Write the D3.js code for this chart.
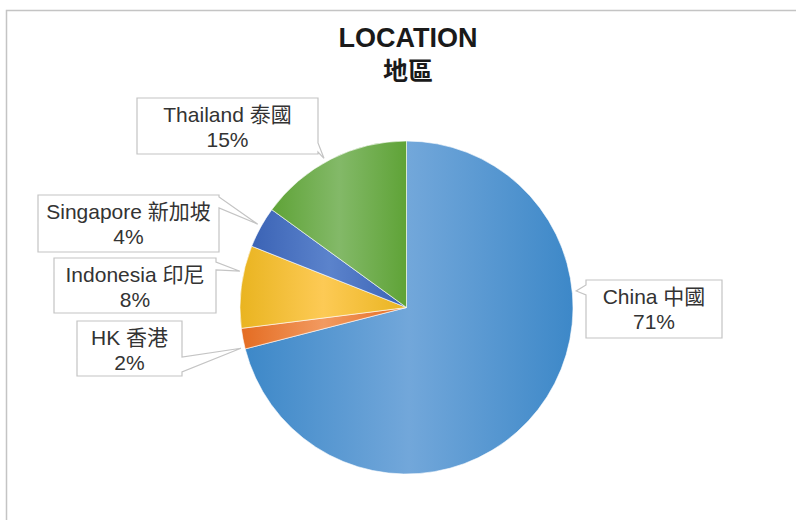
<!DOCTYPE html>
<html>
<head>
<meta charset="utf-8">
<script src="https://cdn.jsdelivr.net/npm/d3@7"></script>
<style>
  body { margin: 0; background: #fff; }
  svg text { font-family: "Liberation Sans", Arial, "Noto Sans CJK TC", sans-serif; }
</style>
</head>
<body>
<div id="chart"></div>
<script>
// Chart data
const categories = ["China", "HK", "Indonesia", "Singapore", "Thailand"];
const categoriesZh = ["中國", "香港", "印尼", "新加坡", "泰國"];
const shares = [71, 2, 8, 4, 15];

// Gradient colours per slice: [edge, middle]
const colors = [
    ["#3d88c8", "#72a7da"],
    ["#e46c22", "#f29a60"],
    ["#e9b420", "#fdca55"],
    ["#3b63b5", "#5b83cc"],
    ["#5fa337", "#83b968"]
];

// Callout boxes (layout only): box, side of the wedge, wedge base offsets along that side
const callouts = [
    {x: 586, y: 280, w: 136, h: 58, side: "left",  b: [5, 15]},
    {x: 77,  y: 321, w: 105, h: 55, side: "right", b: [36, 51]},
    {x: 54,  y: 258, w: 162, h: 55, side: "right", b: [4, 12]},
    {x: 38,  y: 195, w: 181, h: 57, side: "right", b: [2, 13]},
    {x: 137, y: 98,  w: 181, h: 56, side: "right", b: [45, 54]}
];

const width = 796, height = 520;
const cx = 406.5, cy = 307.5, radius = 166.5;

let svg = d3.select("#chart")
    .append("svg")
    .attr("width", width)
    .attr("height", height);

// Outer frame
svg.append("rect")
    .attr("x", 6.5).attr("y", 10.5)
    .attr("width", 820).attr("height", 540)
    .attr("fill", "none")
    .attr("stroke", "#c4c4c4")
    .attr("stroke-width", 1.5);

// Title
svg.append("text")
    .attr("x", 408).attr("y", 47)
    .attr("text-anchor", "middle")
    .style("font-size", "27px")
    .style("font-weight", "bold")
    .style("fill", "#1a1a1a")
    .text("LOCATION");

svg.append("text")
    .attr("x", 408).attr("y", 80)
    .attr("text-anchor", "middle")
    .style("font-size", "25px")
    .style("font-weight", "bold")
    .style("fill", "#1a1a1a")
    .text("地區");

// Gradients
const defs = svg.append("defs");
colors.forEach((c, i) => {
    const g = defs.append("linearGradient")
        .attr("id", "grad" + i)
        .attr("x1", 0).attr("x2", 1).attr("y1", 0).attr("y2", 0);
    g.append("stop").attr("offset", "0%").attr("stop-color", c[0]);
    g.append("stop").attr("offset", "50%").attr("stop-color", c[1]);
    g.append("stop").attr("offset", "100%").attr("stop-color", c[0]);
});

const pie = d3.pie().sort(null).value(d => d);
const arcs = pie(shares);
const arc = d3.arc().innerRadius(0).outerRadius(radius);

const pieG = svg.append("g").attr("transform", `translate(${cx}, ${cy})`);

pieG.selectAll(".slice")
    .data(arcs)
    .enter()
    .append("path")
    .attr("class", "slice")
    .attr("d", arc)
    .attr("fill", (d, i) => `url(#grad${i})`)
    .attr("stroke", "#ffffff")
    .attr("stroke-width", 0.6);

// Callouts
function tipPoint(d, c) {
    const bx = c.side === "right" ? c.x + c.w : c.x;
    const by = c.y + (c.b[0] + c.b[1]) / 2;
    let a = Math.atan2(bx - cx, -(by - cy));
    if (a < 0) a += 2 * Math.PI;
    const pad = 0.01;
    a = Math.max(d.startAngle + pad, Math.min(d.endAngle - pad, a));
    const r = radius + 4;
    return [cx + r * Math.sin(a), cy - r * Math.cos(a)];
}

function calloutPath(c, t) {
    const p = d3.path();
    const x0 = c.x, y0 = c.y, x1 = c.x + c.w, y1 = c.y + c.h;
    if (c.side === "right") {
        p.moveTo(x0, y0);
        p.lineTo(x1, y0);
        p.lineTo(x1, y0 + c.b[0]);
        p.lineTo(t[0], t[1]);
        p.lineTo(x1, y0 + c.b[1]);
        p.lineTo(x1, y1);
        p.lineTo(x0, y1);
    } else {
        p.moveTo(x0, y0);
        p.lineTo(x1, y0);
        p.lineTo(x1, y1);
        p.lineTo(x0, y1);
        p.lineTo(x0, y0 + c.b[1]);
        p.lineTo(t[0], t[1]);
        p.lineTo(x0, y0 + c.b[0]);
    }
    p.closePath();
    return p.toString();
}

const labelG = svg.append("g");

arcs.forEach((d, i) => {
    const c = callouts[i];
    const t = tipPoint(d, c);
    labelG.append("path")
        .attr("d", calloutPath(c, t))
        .attr("fill", "#ffffff")
        .attr("stroke", "#c4c4c4")
        .attr("stroke-width", 1.2);

    labelG.append("text")
        .attr("x", c.x + c.w / 2)
        .attr("y", c.y + 24)
        .attr("text-anchor", "middle")
        .style("font-size", "21px")
        .style("fill", "#333")
        .text(`${categories[i]} ${categoriesZh[i]}`);

    labelG.append("text")
        .attr("x", c.x + c.w / 2)
        .attr("y", c.y + 48.5)
        .attr("text-anchor", "middle")
        .style("font-size", "21px")
        .style("fill", "#333")
        .text(`${shares[i]}%`);
});
</script>
</body>
</html>
